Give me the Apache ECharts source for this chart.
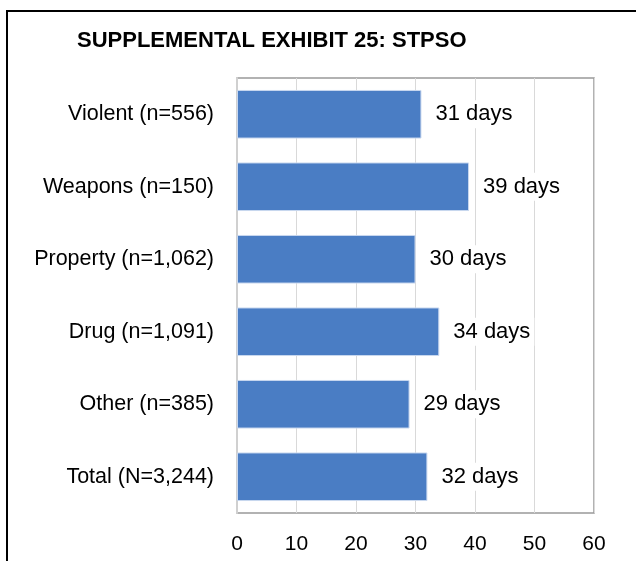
<!DOCTYPE html>
<html>
<head>
<meta charset="utf-8">
<script src="https://cdn.jsdelivr.net/npm/echarts@6/dist/echarts.min.js"></script>
<style>
  html, body { margin: 0; padding: 0; background: #fff; }
  #chart { width: 636px; height: 561px; }
</style>
</head>
<body>
<div id="chart"></div>
<script>
var categories = ['Violent (n=556)', 'Weapons (n=150)', 'Property (n=1,062)', 'Drug (n=1,091)', 'Other (n=385)', 'Total (N=3,244)'];
var days = [31, 39, 30, 34, 29, 32];
var xTicks = [0, 10, 20, 30, 40, 50, 60];

var myChart = echarts.init(document.getElementById('chart'));
myChart.setOption({
    backgroundColor: '#fff',
    animation: false,
    title: {
        text: 'SUPPLEMENTAL EXHIBIT 25: STPSO',
        left: 72,
        top: 25,
        textStyle: {fontFamily: 'Liberation Sans, Arial', fontSize: 22, fontWeight: 'bold', color: '#000'}
    },
    graphic: [{
        type: 'polyline',
        shape: {points: [[7, 561], [7, 11], [636, 11]]},
        style: {stroke: '#000', lineWidth: 2, fill: null}
    }],
    grid: {
        left: 237, right: 42, top: 78, bottom: 48,
        show: true, borderColor: '#999', borderWidth: 1.5
    },
    xAxis: {
        type: 'value',
        min: xTicks[0],
        max: xTicks[xTicks.length - 1],
        interval: 10,
        axisLine: {show: false},
        axisTick: {show: false},
        axisLabel: {fontFamily: 'Liberation Sans, Arial', fontSize: 21, color: '#000', margin: 21},
        splitLine: {lineStyle: {color: '#d9d9d9', width: 1}}
    },
    yAxis: {
        type: 'category',
        inverse: true,
        data: categories,
        axisLine: {lineStyle: {color: '#d0d0d0', width: 2}},
        axisTick: {show: false},
        axisLabel: {fontFamily: 'Liberation Sans, Arial', fontSize: 21.5, color: '#000', margin: 23}
    },
    series: [{
        type: 'bar',
        data: days,
        barCategoryGap: '33%',
        itemStyle: {color: '#4a7dc4', borderColor: '#c9d8ef', borderWidth: 1},
        label: {
            show: true,
            position: 'right',
            distance: 10,
            formatter: '{c} days',
            fontFamily: 'Liberation Sans, Arial',
            fontSize: 22,
            color: '#000',
            backgroundColor: '#fff',
            padding: [3, 4]
        }
    }]
});
</script>
</body>
</html>
